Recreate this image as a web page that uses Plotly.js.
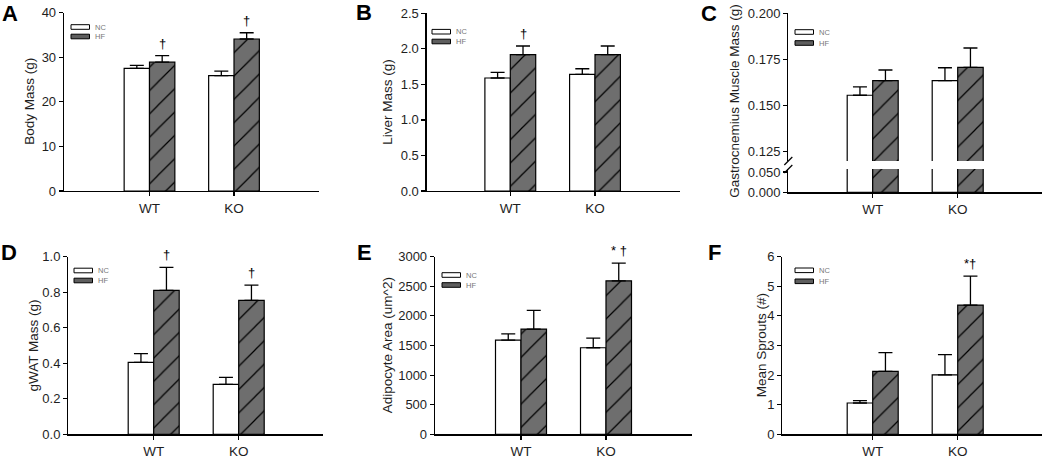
<!DOCTYPE html>
<html><head><meta charset="utf-8">
<script src="https://cdn.plot.ly/plotly-3.0.1.min.js"></script>
<style>html,body{margin:0;padding:0;background:#fff}#chart{width:1050px;height:459px}</style>
</head><body><div id="chart"></div>
<script>
// ---------- data ----------
const categories = ['WT', 'KO'];
const seriesNames = ['NC', 'HF'];

const bodyNC = [27.5, 25.9];
const bodyNCErr = [0.7, 1.0];
const bodyHF = [28.9, 34.1];
const bodyHFErr = [1.45, 1.4];
const bodySig = ['†', '†'];

const liverNC = [1.59, 1.64];
const liverNCErr = [0.08, 0.08];
const liverHF = [1.92, 1.92];
const liverHFErr = [0.12, 0.12];
const liverSig = ['†', ''];

const gastroNC = [0.1556, 0.1635];
const gastroNCErr = [0.0046, 0.007];
const gastroHF = [0.1635, 0.1707];
const gastroHFErr = [0.0058, 0.0105];
const gastroSig = ['', ''];

const gwatNC = [0.405, 0.281];
const gwatNCErr = [0.049, 0.04];
const gwatHF = [0.81, 0.754];
const gwatHFErr = [0.13, 0.086];
const gwatSig = ['†', '†'];

const adipoNC = [1592, 1462];
const adipoNCErr = [106, 164];
const adipoHF = [1778, 2593];
const adipoHFErr = [315, 299];
const adipoSig = ['', '* †'];

const sproutNC = [1.057, 2.01];
const sproutNCErr = [0.08, 0.68];
const sproutHF = [2.127, 4.366];
const sproutHFErr = [0.63, 0.98];
const sproutSig = ['', '*†'];

const panelLetters = ['A', 'B', 'C', 'D', 'E', 'F'];
const yTitles = ['Body Mass (g)', 'Liver Mass (g)', 'Gastrocnemius Muscle Mass (g)',
                 'gWAT Mass (g)', 'Adipocyte Area (um^2)', 'Mean Sprouts (#)'];
const yTicksA = [0, 10, 20, 30, 40];
const yTicksB = [0, 0.5, 1.0, 1.5, 2.0, 2.5];
const yTicksCUpper = [0.125, 0.150, 0.175, 0.200];
const yTicksCLower = [0.000, 0.050];
const yTicksD = [0, 0.2, 0.4, 0.6, 0.8, 1.0];
const yTicksE = [0, 500, 1000, 1500, 2000, 2500, 3000];
const yTicksF = [0, 1, 2, 3, 4, 5, 6];

// ---------- layout geometry (pixels) ----------
const W = 1050, H = 459;
const px = v => v / W;
const py = v => 1 - v / H;

const panels = [
  {nc: bodyNC, ncE: bodyNCErr, hf: bodyHF, hfE: bodyHFErr, sig: bodySig, ticks: yTicksA, fmt: 'd', yr: [0, 40],
   L: 64, R: 319.3, T: 12.7, B: 191, c0: 149.5, c1: 234, letter: [10, 14], leg: [71, 27, 36.5], titleX: 30},
  {nc: liverNC, ncE: liverNCErr, hf: liverHF, hfE: liverHFErr, sig: liverSig, ticks: yTicksB, fmt: '.1f', yr: [0, 2.5],
   L: 426.7, R: 680, T: 13.3, B: 191, c0: 510.3, c1: 595, letter: [364, 12], leg: [432, 31.7, 41.5], titleX: 386.7},
  {nc: gastroNC, ncE: gastroNCErr, hf: gastroHF, hfE: gastroHFErr, sig: gastroSig, ticks: yTicksCUpper, fmt: '.3f', yr: [0.12, 0.2],
   L: 788.3, R: 1041.7, T: 13.3, B: 161, c0: 872.7, c1: 957.7, letter: [709, 13], leg: [795, 32, 43], titleX: 735,
   lower: {T: 169, B: 192.3, yr: [0, 0.0574], ticks: yTicksCLower}},
  {nc: gwatNC, ncE: gwatNCErr, hf: gwatHF, hfE: gwatHFErr, sig: gwatSig, ticks: yTicksD, fmt: '.1f', yr: [0, 1.0],
   L: 68.3, R: 323.3, T: 256.7, B: 434.3, c0: 153.7, c1: 238.7, letter: [9, 253], leg: [74, 270.5, 280.5], titleX: 33},
  {nc: adipoNC, ncE: adipoNCErr, hf: adipoHF, hfE: adipoHFErr, sig: adipoSig, ticks: yTicksE, fmt: 'd', yr: [0, 3000],
   L: 435, R: 691.7, T: 256.7, B: 434.3, c0: 521, c1: 606, letter: [364, 253], leg: [442, 275, 285], titleX: 387.7},
  {nc: sproutNC, ncE: sproutNCErr, hf: sproutHF, hfE: sproutHFErr, sig: sproutSig, ticks: yTicksF, fmt: 'd', yr: [0, 6],
   L: 782.3, R: 1041.7, T: 256.7, B: 434.3, c0: 872.7, c1: 957.7, letter: [714, 253], leg: [795, 270.3, 281.3], titleX: 761.7}
];

const HFGRAY = '#6e6e6e';
const FONT = 'Liberation Sans, Arial, sans-serif';
const TXT = '#1e1e1e';
const traces = [];
const layout = {
  width: W, height: H,
  margin: {l: 0, r: 0, t: 0, b: 0},
  paper_bgcolor: '#fff', plot_bgcolor: 'rgba(0,0,0,0)',
  barmode: 'group', bargap: 0.4, bargroupgap: 0,
  showlegend: false,
  font: {family: FONT, color: TXT, size: 13},
  annotations: [], shapes: []
};

function errSpec(arr) {
  return {type: 'data', symmetric: false, array: arr, arrayminus: arr.map(() => 0),
          color: '#000', thickness: 1.3, width: 7};
}
function ncTrace(p, xa, ya, withErr) {
  const t = {
    type: 'bar', name: seriesNames[0], x: categories, y: p.nc, xaxis: xa, yaxis: ya,
    marker: {color: '#ffffff', line: {color: '#000', width: 1.2}}
  };
  if (withErr) t.error_y = errSpec(p.ncE);
  return t;
}
function hfTrace(p, xa, ya, withErr) {
  const t = {
    type: 'bar', name: seriesNames[1], x: categories, y: p.hf, xaxis: xa, yaxis: ya,
    marker: {color: HFGRAY, line: {color: '#000', width: 1.2},
             pattern: {shape: '/', fgcolor: '#000', bgcolor: HFGRAY, size: 16.5, solidity: 0.075, fillmode: 'replace'}}
  };
  if (withErr) t.error_y = errSpec(p.hfE);
  return t;
}

function axisBase() {
  return {
    showline: true, linecolor: '#000', linewidth: 1.3, mirror: false,
    ticks: 'outside', ticklen: 4, tickcolor: '#000', tickwidth: 1.2,
    showgrid: false, zeroline: false, fixedrange: true,
    tickfont: {family: FONT, size: 13, color: TXT}
  };
}

function sigNotes(p, xa, ya) {
  p.sig.forEach((s, k) => {
    if (!s) return;
    layout.annotations.push({xref: xa, yref: ya, x: k + 0.15, y: p.hf[k] + p.hfE[k], text: s,
      showarrow: false, yanchor: 'bottom', yshift: 3, font: {family: FONT, size: 13, color: '#000'}});
  });
}

panels.forEach((p, i) => {
  const n = i + 1;
  const xa = 'x' + (n === 1 ? '' : n);
  const ya = 'y' + (n === 1 ? '' : n);
  const xKey = 'xaxis' + (n === 1 ? '' : n);
  const yKey = 'yaxis' + (n === 1 ? '' : n);
  const span = p.c1 - p.c0;

  layout[xKey] = Object.assign(axisBase(), {
    domain: [px(p.L), px(p.R)],
    range: [(p.L - p.c0) / span, (p.R - p.c0) / span],
    type: 'category', tickvals: categories, ticktext: categories, anchor: ya,
    tickfont: {family: FONT, size: 13.5, color: TXT}
  });

  let titleMid;
  if (p.lower) {
    // broken axis: lower part is the main y axis, upper part an extra axis
    layout[yKey] = Object.assign(axisBase(), {
      domain: [py(p.lower.B), py(p.lower.T)], range: p.lower.yr, anchor: xa,
      tickvals: p.lower.ticks, tickformat: '.3f'
    });
    const yUp = 'y7';
    layout.yaxis7 = Object.assign(axisBase(), {
      domain: [py(p.B), py(p.T)], range: p.yr, anchor: xa,
      tickvals: p.ticks, tickformat: p.fmt
    });
    traces.push(ncTrace(p, xa, ya, false), hfTrace(p, xa, ya, false));
    traces.push(ncTrace(p, xa, yUp, true), hfTrace(p, xa, yUp, true));
    [p.B, p.lower.T].forEach(yy => {
      layout.shapes.push({type: 'line', xref: 'paper', yref: 'paper',
        x0: px(p.L - 4), y0: py(yy + 4), x1: px(p.L + 4), y1: py(yy - 4),
        line: {color: '#000', width: 1.2}});
    });
    titleMid = (p.T + p.lower.B) / 2 - 2;
    sigNotes(p, xa, yUp);
  } else {
    layout[yKey] = Object.assign(axisBase(), {
      domain: [py(p.B), py(p.T)], range: p.yr, anchor: xa,
      tickvals: p.ticks, tickformat: p.fmt
    });
    traces.push(ncTrace(p, xa, ya, true), hfTrace(p, xa, ya, true));
    titleMid = (p.T + p.B) / 2;
    sigNotes(p, xa, ya);
  }

  // y-axis title
  layout.annotations.push({xref: 'paper', yref: 'paper', x: px(p.titleX), y: py(titleMid),
    text: yTitles[i], textangle: -90, showarrow: false, xanchor: 'center', yanchor: 'middle',
    font: {family: FONT, size: 13.5, color: TXT}});

  // panel letter
  layout.annotations.push({xref: 'paper', yref: 'paper', x: px(p.letter[0]), y: py(p.letter[1]),
    text: '<b>' + panelLetters[i] + '</b>', showarrow: false, xanchor: 'center', yanchor: 'middle',
    font: {family: FONT, size: 22, color: '#000'}});

  // legend (drawn per panel)
  const [lx, ly1, ly2] = p.leg;
  const fills = ['#ffffff', '#5e5e5e'];
  [ly1, ly2].forEach((ly, k) => {
    layout.shapes.push({type: 'rect', xref: 'paper', yref: 'paper',
      x0: px(lx), x1: px(lx + 18.5), y0: py(ly + 2.3), y1: py(ly - 2.3),
      fillcolor: fills[k], line: {color: '#000', width: 1}});
    layout.annotations.push({xref: 'paper', yref: 'paper', x: px(lx + 21.5), y: py(ly),
      text: seriesNames[k], showarrow: false, xanchor: 'left', yanchor: 'middle',
      font: {family: FONT, size: 7.5, color: '#777'}});
  });
});

Plotly.newPlot('chart', traces, layout, {displayModeBar: false, staticPlot: true});
</script>
</body></html>
